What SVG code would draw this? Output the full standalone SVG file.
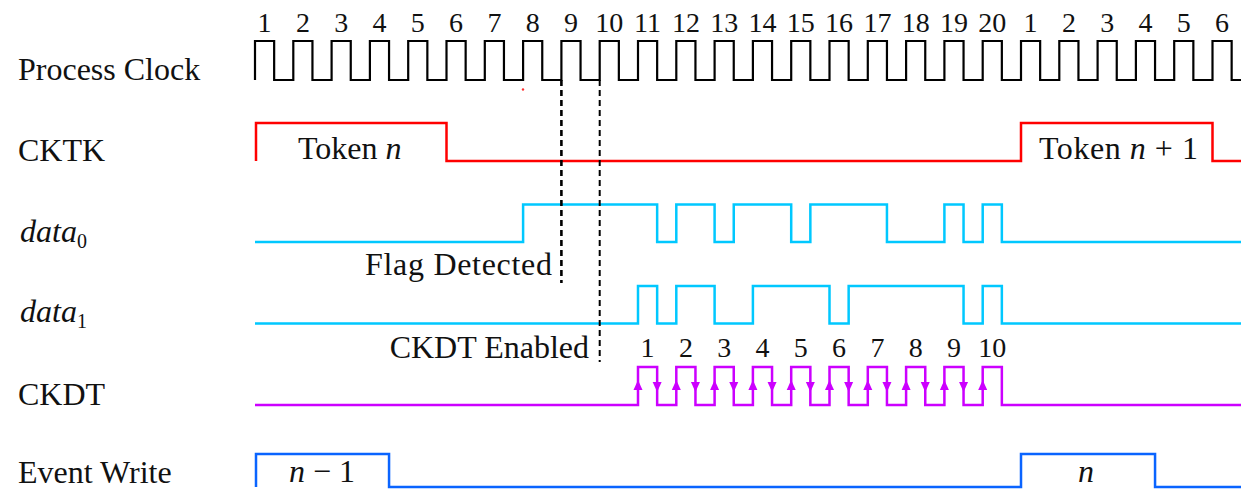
<svg xmlns="http://www.w3.org/2000/svg" width="1241" height="489" viewBox="0 0 1241 489">
<style>
  .t { font-family: "Liberation Serif", "Times New Roman", serif; font-size: 32px; fill: #111; }
  .num { font-family: "Liberation Serif", "Times New Roman", serif; font-size: 28px; fill: #111; text-anchor: middle; }
  .it { font-style: italic; }
  .w { fill: none; stroke-linejoin: miter; stroke-linecap: butt; }
  .clk { stroke: #000; stroke-width: 2.2; }
  .cktk { stroke: #FF0000; stroke-width: 2.5; }
  .data { stroke: #00C8FF; stroke-width: 2.5; }
  .ckdt { stroke: #CC00FF; stroke-width: 2.5; }
  .ev { stroke: #0A64FF; stroke-width: 2.5; }
  .dash { stroke: #000; stroke-dasharray: 6 4; fill: none; }
</style>
<defs>
  <path id="up" d="M0,-6 L4.5,4 L-4.5,4 Z" fill="#CC00FF"/>
  <path id="dn" d="M0,6 L4.5,-4 L-4.5,-4 Z" fill="#CC00FF"/>
</defs>

<g id="labels">
  <text class="t" x="18" y="80">Process Clock</text>
  <text class="t" x="18" y="160.5">CKTK</text>
  <text class="t" x="20" y="241.5"><tspan class="it">data</tspan><tspan font-size="20" dy="6">0</tspan></text>
  <text class="t" x="20" y="321.5"><tspan class="it">data</tspan><tspan font-size="20" dy="6">1</tspan></text>
  <text class="t" x="18" y="405">CKDT</text>
  <text class="t" x="18" y="483">Event Write</text>
</g>

<g id="process-clock">
  <path class="w clk" d="M255,80 V41 H274.15 V80 H293.3 V41 H312.45 V80 H331.6 V41 H350.75 V80 H369.9 V41 H389.05 V80 H408.2 V41 H427.35 V80 H446.5 V41 H465.65 V80 H484.8 V41 H503.95 V80 H523.1 V41 H542.25 V80 H561.4 V41 H580.55 V80 H599.7 V41 H618.85 V80 H638 V41 H657.15 V80 H676.3 V41 H695.45 V80 H714.6 V41 H733.75 V80 H752.9 V41 H772.05 V80 H791.2 V41 H810.35 V80 H829.5 V41 H848.65 V80 H867.8 V41 H886.95 V80 H906.1 V41 H925.25 V80 H944.4 V41 H963.55 V80 H982.7 V41 H1001.85 V80 H1021 V41 H1040.15 V80 H1059.3 V41 H1078.45 V80 H1097.6 V41 H1116.75 V80 H1135.9 V41 H1155.05 V80 H1174.2 V41 H1193.35 V80 H1212.5 V41 H1231.65 V80 H1241"/>
  <text class="num" x="264.6" y="32">1</text>
  <text class="num" x="302.9" y="32">2</text>
  <text class="num" x="341.2" y="32">3</text>
  <text class="num" x="379.5" y="32">4</text>
  <text class="num" x="417.8" y="32">5</text>
  <text class="num" x="456.1" y="32">6</text>
  <text class="num" x="494.4" y="32">7</text>
  <text class="num" x="532.7" y="32">8</text>
  <text class="num" x="571" y="32">9</text>
  <text class="num" x="609.3" y="32">10</text>
  <text class="num" x="647.6" y="32">11</text>
  <text class="num" x="685.9" y="32">12</text>
  <text class="num" x="724.2" y="32">13</text>
  <text class="num" x="762.5" y="32">14</text>
  <text class="num" x="800.8" y="32">15</text>
  <text class="num" x="839.1" y="32">16</text>
  <text class="num" x="877.4" y="32">17</text>
  <text class="num" x="915.7" y="32">18</text>
  <text class="num" x="954" y="32">19</text>
  <text class="num" x="992.3" y="32">20</text>
  <text class="num" x="1030.6" y="32">1</text>
  <text class="num" x="1068.9" y="32">2</text>
  <text class="num" x="1107.2" y="32">3</text>
  <text class="num" x="1145.5" y="32">4</text>
  <text class="num" x="1183.8" y="32">5</text>
  <text class="num" x="1222.1" y="32">6</text>
  <circle cx="523" cy="89.5" r="1.2" fill="#FF3030"/>
</g>

<g id="cktk">
  <path class="w cktk" d="M256,161 V123 H446.5 V161 H1021 V123 H1212.5 V161 H1241"/>
  <text class="t" x="298" y="159">Token <tspan class="it">n</tspan></text>
  <text class="t" x="1039" y="159" textLength="159">Token <tspan class="it">n</tspan> + 1</text>
</g>

<g id="data0">
  <path class="w data" d="M255,242 H523.1 V204.5 H657.15 V242 H676.3 V204.5 H714.6 V242 H733.75 V204.5 H791.2 V242 H810.35 V204.5 H886.95 V242 H944.4 V204.5 H963.55 V242 H982.7 V204.5 H1001.85 V242 H1241"/>
</g>

<g id="data1">
  <path class="w data" d="M255,323.5 H638 V286 H657.15 V323.5 H676.3 V286 H714.6 V323.5 H752.9 V286 H829.5 V323.5 H848.65 V286 H963.55 V323.5 H982.7 V286 H1001.85 V323.5 H1241"/>
</g>

<g id="ckdt">
  <path class="w ckdt" d="M255,405 H638 V367 H657.15 V405 H676.3 V367 H695.45 V405 H714.6 V367 H733.75 V405 H752.9 V367 H772.05 V405 H791.2 V367 H810.35 V405 H829.5 V367 H848.65 V405 H867.8 V367 H886.95 V405 H906.1 V367 H925.25 V405 H944.4 V367 H963.55 V405 H982.7 V367 H1001.85 V405 H1241"/>
  <use href="#up" x="638" y="386"/><use href="#dn" x="657.15" y="386"/>
  <use href="#up" x="676.3" y="386"/><use href="#dn" x="695.45" y="386"/>
  <use href="#up" x="714.6" y="386"/><use href="#dn" x="733.75" y="386"/>
  <use href="#up" x="752.9" y="386"/><use href="#dn" x="772.05" y="386"/>
  <use href="#up" x="791.2" y="386"/><use href="#dn" x="810.35" y="386"/>
  <use href="#up" x="829.5" y="386"/><use href="#dn" x="848.65" y="386"/>
  <use href="#up" x="867.8" y="386"/><use href="#dn" x="886.95" y="386"/>
  <use href="#up" x="906.1" y="386"/><use href="#dn" x="925.25" y="386"/>
  <use href="#up" x="944.4" y="386"/><use href="#dn" x="963.55" y="386"/>
  <use href="#up" x="982.7" y="386"/>
  <text class="num" x="647.6" y="357">1</text>
  <text class="num" x="685.9" y="357">2</text>
  <text class="num" x="724.2" y="357">3</text>
  <text class="num" x="762.5" y="357">4</text>
  <text class="num" x="800.8" y="357">5</text>
  <text class="num" x="839.1" y="357">6</text>
  <text class="num" x="877.4" y="357">7</text>
  <text class="num" x="915.7" y="357">8</text>
  <text class="num" x="954" y="357">9</text>
  <text class="num" x="992.3" y="357">10</text>
</g>

<g id="event-write">
  <path class="w ev" d="M256,487 V454 H389.05 V487 H1021 V454 H1155.05 V487 H1241"/>
  <text class="t" x="289" y="482"><tspan class="it">n</tspan> − 1</text>
  <text class="t" x="1078" y="482"><tspan class="it">n</tspan></text>
</g>

<g id="connectors">
  <line class="dash" x1="561.4" y1="80" x2="561.4" y2="283" stroke-width="2.6"/>
  <line class="dash" x1="599.7" y1="80" x2="599.7" y2="362" stroke-width="2"/>
  <text class="t" x="552" y="275" text-anchor="end" textLength="187">Flag Detected</text>
  <text class="t" x="589" y="358" text-anchor="end">CKDT Enabled</text>
</g>
</svg>
